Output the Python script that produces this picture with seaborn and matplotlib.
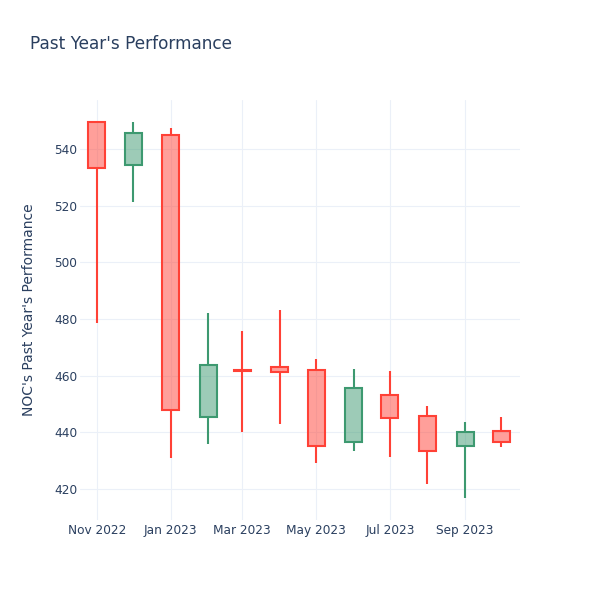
import matplotlib
matplotlib.use("Agg")
import matplotlib.pyplot as plt
import matplotlib.dates as mdates
import seaborn as sns
import pandas as pd
import numpy as np

dates = ["2022-11-01", "2022-12-01", "2023-01-01", "2023-02-01", "2023-03-01", "2023-04-01",
         "2023-05-01", "2023-06-01", "2023-07-01", "2023-08-01", "2023-09-01", "2023-10-01"]
open_ = [549.5, 534.2, 544.9, 445.2, 462.0, 463.2, 461.8, 436.6, 453.0, 445.8, 435.0, 440.4]
high = [549.9, 549.5, 547.5, 482.0, 475.8, 483.2, 465.8, 462.2, 461.6, 449.4, 443.5, 445.3]
low = [478.5, 521.4, 430.8, 435.9, 439.9, 442.9, 429.1, 433.5, 431.4, 421.6, 416.7, 434.7]
close = [533.2, 545.5, 447.9, 463.9, 461.5, 461.1, 435.3, 455.5, 444.9, 433.2, 440.0, 436.7]
tick_dates = ["2022-11-01", "2023-01-01", "2023-03-01", "2023-05-01", "2023-07-01", "2023-09-01"]
tick_labels = ["Nov 2022", "Jan 2023", "Mar 2023", "May 2023", "Jul 2023", "Sep 2023"]
y_ticks = [420, 440, 460, 480, 500, 520, 540]

df = pd.DataFrame({"date": pd.to_datetime(dates), "open": open_, "high": high,
                   "low": low, "close": close})

sns.set_theme(style="white")
plt.rcParams['font.family'] = ['DejaVu Sans']

INC = "#3D9970"
DEC = "#FF4136"
TXT = "#2a3f5f"
GRID = "#EBF0F8"

fig = plt.figure(figsize=(6, 6), dpi=100)
ax = fig.add_axes([80/600, 80/600, 440/600, 420/600])

x = mdates.date2num(df["date"])
width = 14
for xi, o, h, l, c in zip(x, df["open"], df["high"], df["low"], df["close"]):
    col = INC if c >= o else DEC
    top, bot = max(o, c), min(o, c)
    hgt = top - bot if top - bot > 0.3 else 0.3
    ax.vlines(xi, top, h, color=col, lw=1.5, zorder=3)
    ax.vlines(xi, l, bot, color=col, lw=1.5, zorder=3)
    ax.bar(xi, hgt, bottom=bot, width=width, color=col, alpha=0.5, lw=0, zorder=3)
    ax.bar(xi, hgt, bottom=bot, width=width, facecolor="none", edgecolor=col, lw=1.5, zorder=4)

x0 = mdates.date2num(pd.Timestamp("2022-10-18"))
ax.set_xlim(x0, x0 + 363.4)
ax.set_ylim(409.0, 557.3)
ax.set_xticks(mdates.date2num(pd.to_datetime(tick_dates)))
ax.set_xticklabels(tick_labels)
ax.set_yticks(y_ticks)
ax.set_yticklabels([str(v) for v in y_ticks])
ax.tick_params(axis="both", colors=TXT, labelsize=8.7, length=0)
ax.tick_params(axis="y", pad=2)
ax.tick_params(axis="x", pad=3)
ax.grid(True, color=GRID, lw=0.8, zorder=0)
ax.set_axisbelow(True)
for s in ax.spines.values():
    s.set_visible(False)

ax.set_ylabel("NOC's Past Year's Performance", color=TXT, fontsize=10, labelpad=13)
fig.text(30/600, 1 - 44/600, "Past Year's Performance", color=TXT, fontsize=12.2,
         ha="left", va="center")

fig.savefig("out.png", dpi=100, facecolor="white")
